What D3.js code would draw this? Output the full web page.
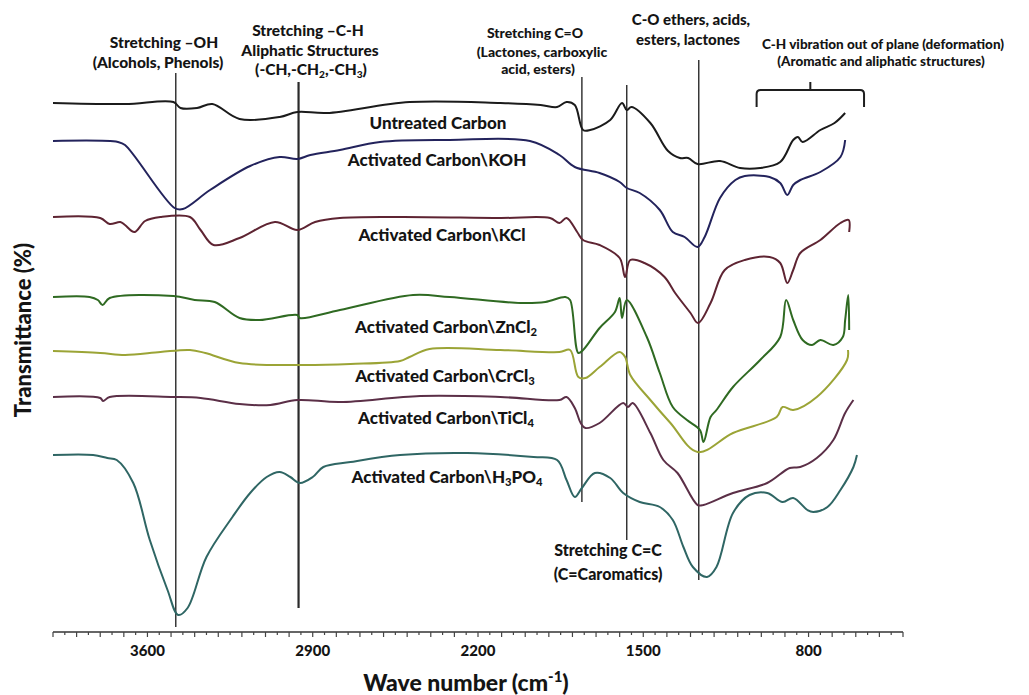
<!DOCTYPE html>
<html>
<head>
<meta charset="utf-8">
<script src="https://cdn.jsdelivr.net/npm/d3@7"></script>
<style>
body { margin: 0; background: #fff; }
text { font-family: Lato, "Open Sans", sans-serif; font-weight: 900; fill: #141414; }
</style>
</head>
<body>
<script>

// FTIR spectra, [wave number (cm-1), transmittance (stacked, a.u.)]
var untreated = [
    [4000, 107.4], [3695, 107.2], [3490, 107.6], [3460, 106.4], [3390, 106.4], [3325, 107.2],
    [3210, 104.2], [3040, 104.6], [2965, 105.6], [2840, 105.4], [2490, 107.6], [2105, 107.4],
    [1935, 107], [1865, 106.6], [1825, 107.6], [1790, 107], [1755, 102], [1725, 102],
    [1640, 104], [1590, 107.4], [1570, 106], [1550, 106.6], [1470, 103.4], [1395, 97.8],
    [1345, 96.4], [1310, 96.4], [1270, 95.2], [1175, 95.8], [1090, 94.4], [1005, 94.4],
    [920, 95.6], [865, 100], [845, 100.6], [825, 99.6], [750, 102], [690, 103.4], [645, 105.4]
];
var koh = [
    [4000, 99.8], [3725, 99.6], [3695, 99], [3485, 86.4], [3450, 86.2], [3335, 90],
    [3165, 94.8], [3040, 96.6], [2965, 96.2], [2910, 97], [2785, 98], [2615, 99.6],
    [2320, 100], [1980, 99.8], [1855, 97], [1790, 94.6], [1685, 93.4], [1600, 91.6],
    [1570, 90.4], [1515, 89.4], [1430, 86], [1375, 81.6], [1325, 80.6], [1270, 78.6],
    [1240, 80.6], [1175, 88.4], [1110, 92], [1070, 92.8], [965, 92.6], [920, 91.4],
    [890, 89], [865, 91], [835, 92], [750, 93.6], [665, 96.6], [645, 100]
];
var kcl = [
    [4000, 84.6], [3800, 84.4], [3760, 83.2], [3715, 83.6], [3695, 83], [3655, 81.6],
    [3610, 83.8], [3545, 84.6], [3420, 84.6], [3375, 82], [3320, 79], [3210, 80.4],
    [3060, 83.6], [2965, 82], [2890, 83.6], [2785, 84.4], [2530, 84.6], [2105, 84.4],
    [1895, 84.4], [1855, 83.4], [1825, 84.4], [1780, 81.6], [1755, 80], [1685, 79],
    [1600, 76.4], [1577, 72.6], [1555, 76], [1495, 75.4], [1410, 72.6], [1365, 69.4],
    [1300, 65.4], [1268, 63.4], [1215, 67.4], [1155, 74], [1070, 76], [965, 76.6],
    [920, 75.4], [890, 71.4], [865, 74], [835, 77.4], [750, 80], [665, 83.4], [630, 84], [628, 81.6]
];
var zncl2 = [
    [4000, 68.6], [3845, 68.6], [3810, 68], [3790, 67], [3760, 68.4], [3490, 68.8],
    [3400, 68], [3315, 67.6], [3210, 64.4], [3125, 64], [2965, 65], [2955, 64.4],
    [2785, 66], [2475, 69], [2320, 68.6], [2020, 67.4], [1915, 67.6], [1830, 68.6],
    [1810, 68], [1775, 57.4], [1755, 58], [1685, 62.4], [1620, 65.6], [1600, 68.4],
    [1590, 64.4], [1570, 68], [1485, 60.6], [1430, 53.4], [1375, 46.6], [1315, 44],
    [1260, 42], [1245, 39.6], [1215, 44.6], [1190, 46], [1120, 50.6], [1005, 56],
    [920, 60.6], [895, 68], [865, 64], [825, 60], [785, 59], [750, 60], [695, 59],
    [655, 60.6], [645, 64], [632, 69], [628, 62]
];
var crcl3 = [
    [4000, 57.8], [3800, 57.4], [3695, 57], [3545, 57.6], [3420, 58], [3355, 57.4],
    [3210, 55.4], [2965, 55], [2740, 55.2], [2530, 55.8], [2490, 56.6], [2405, 58.2],
    [2105, 58], [1855, 57.6], [1810, 58], [1775, 52.6], [1745, 52.4], [1685, 54.6],
    [1600, 57.6], [1577, 56.6], [1555, 53], [1470, 48], [1385, 43.4], [1270, 37.6],
    [1120, 41.4], [935, 44.6], [910, 46.6], [865, 46], [765, 48.6], [637, 56], [633, 58]
];
var ticl4 = [
    [4000, 48.6], [3800, 48.4], [3788, 47.8], [3760, 48.6], [3490, 48.6], [3375, 48.4],
    [3210, 47.2], [3080, 47], [2965, 48], [2785, 47.6], [2445, 48.8], [2105, 48.6],
    [1855, 48], [1825, 48.6], [1790, 46.4], [1765, 43.4], [1745, 42.4], [1685, 43.4],
    [1585, 47.4], [1565, 46.6], [1545, 47.4], [1470, 41.4], [1415, 36], [1355, 33.4],
    [1270, 27], [1245, 27], [1120, 29.4], [975, 31.4], [880, 34.4], [835, 34.6],
    [765, 36.4], [695, 40], [645, 45.4], [610, 48]
];
var h3po4 = [
    [4000, 37], [3830, 37], [3770, 36.4], [3730, 36], [3660, 31.4], [3590, 20],
    [3515, 10], [3470, 5], [3430, 6.4], [3350, 16.6], [3240, 24.6], [3165, 29.4],
    [3095, 32.6], [3040, 33.6], [2995, 32.6], [2955, 31.4], [2900, 32.6], [2855, 34.6],
    [2740, 35.6], [2530, 37], [2245, 37.4], [1965, 36.6], [1865, 36], [1825, 32],
    [1790, 28.6], [1760, 30.4], [1705, 33.4], [1640, 32.4], [1585, 29.4], [1515, 27.6],
    [1430, 26.6], [1375, 24], [1330, 18.6], [1290, 14.6], [1230, 12.6], [1190, 14.6],
    [1120, 25.4], [1050, 29], [975, 29.4], [910, 27.6], [865, 28.4], [805, 26],
    [780, 25.6], [720, 26.6], [665, 30], [610, 34.6], [595, 37]
];

var names = ["Untreated Carbon", "Activated Carbon\\KOH", "Activated Carbon\\KCl",
             "Activated Carbon\\ZnCl_2", "Activated Carbon\\CrCl_3", "Activated Carbon\\TiCl_4",
             "Activated Carbon\\H_3PO_4"];

// assigned bands (cm-1)
var bands = [3480, 2960, 1760, 1570, 1265];
var bracketRange = [1020, 565]; // C-H out of plane region

var tickLabels = [3600, 2900, 2200, 1500, 800];

////////////////////////////////////////////////////////////////////////////////
var W = 1029, H = 695;

var colors = ["#1b1b1b", "#23235c", "#5e2432", "#2f6a22", "#9ba436", "#5b2f47", "#2f6664"];
var labelPos = [[438, 129], [437, 166], [442, 241], [446, 333], [445, 382], [446, 424], [447, 483]];

var x = d3.scaleLinear().domain([4000, 400]).range([53, 903]);
var y = d3.scaleLinear().domain([0, 120]).range([640, 40]);

var svg = d3.select("body").append("svg")
    .attr("width", W)
    .attr("height", H);

// writes "ZnCl_2" style strings as tspans with subscripts
function richText(t, str) {
    var parts = str.split(/_(\d)/);
    var down = false;
    for (var i = 0; i < parts.length; i++) {
        if (parts[i] === "") continue;
        var ts = t.append("tspan").text(parts[i]);
        if (i % 2 == 1) {
            ts.attr("font-size", "0.66em").attr("dy", down ? 0 : 3);
            down = true;
        } else if (down) {
            ts.attr("dy", -3);
            down = false;
        }
    }
}

// band marker lines
var bandY = [[73, 627], [82, 608], [77, 502], [85, 540], [60, 580]];
svg.selectAll(".band").data(bands)
  .enter().append("line")
    .attr("class", "band")
    .attr("x1", function(d) { return x(d); })
    .attr("x2", function(d) { return x(d); })
    .attr("y1", function(d, i) { return bandY[i][0]; })
    .attr("y2", function(d, i) { return bandY[i][1]; })
    .attr("stroke", "#2a2a2a")
    .attr("stroke-width", function(d, i) { return i == 1 ? 2.2 : 1.4; });

// bracket
var bx1 = x(bracketRange[0]), bx2 = x(bracketRange[1]), bm = (bx1 + bx2) / 2;
svg.append("path")
    .attr("d", "M" + bx1 + ",107 L" + bx1 + ",94 Q" + bx1 + ",90 " + (bx1 + 4) + ",90 L" +
               (bx2 - 4) + ",90 Q" + bx2 + ",90 " + bx2 + ",94 L" + bx2 + ",107" +
               " M" + bm + ",90 L" + bm + ",82")
    .attr("fill", "none")
    .attr("stroke", "#1e1e1e")
    .attr("stroke-width", 2);

// spectra
var line = d3.line()
    .x(function(d) { return x(d[0]); })
    .y(function(d) { return y(d[1]); })
    .curve(d3.curveCatmullRom.alpha(0.5));

var spectra = [untreated, koh, kcl, zncl2, crcl3, ticl4, h3po4];

svg.selectAll(".spectrum").data(spectra)
  .enter().append("path")
    .attr("class", "spectrum")
    .attr("d", line)
    .attr("fill", "none")
    .attr("stroke", function(d, i) { return colors[i]; })
    .attr("stroke-width", 2)
    .attr("stroke-linejoin", "round");

// curve labels
names.forEach(function(n, i) {
    var t = svg.append("text")
        .attr("x", labelPos[i][0])
        .attr("y", labelPos[i][1])
        .attr("text-anchor", "middle")
        .attr("font-size", 17);
    richText(t, n);
});

// band annotations
var notes = [
    ["Stretching \u2013OH", 164, 48, 15.5],
    ["(Alcohols, Phenols)", 158, 68, 15.5],
    ["Stretching \u2013C-H", 308, 36, 15.5],
    ["Aliphatic Structures", 310, 56, 15.5],
    ["(-CH,-CH_2,-CH_3)", 311, 75, 15.5],
    ["Stretching C=O", 535, 38, 14],
    ["(Lactones, carboxylic", 542, 57, 14],
    ["acid, esters)", 538, 74, 14],
    ["C-O ethers, acids,", 691, 25, 15],
    ["esters, lactones", 688, 45, 15],
    ["C-H vibration out of plane (deformation)", 883, 49, 13.5],
    ["(Aromatic and aliphatic structures)", 881, 66, 13.5],
    ["Stretching C=C", 608, 556, 16],
    ["(C=Caromatics)", 608, 580, 16]
];
notes.forEach(function(n) {
    var t = svg.append("text")
        .attr("x", n[1])
        .attr("y", n[2])
        .attr("text-anchor", "middle")
        .attr("font-size", n[3]);
    richText(t, n[0]);
});

// x axis
var minor = d3.range(4000, 399, -50);
svg.append("line")
    .attr("x1", x(4000)).attr("x2", x(400))
    .attr("y1", 632).attr("y2", 632)
    .attr("stroke", "#333").attr("stroke-width", 1.6);
svg.selectAll(".tick").data(minor)
  .enter().append("line")
    .attr("class", "tick")
    .attr("x1", function(d) { return x(d); })
    .attr("x2", function(d) { return x(d); })
    .attr("y1", 632)
    .attr("y2", function(d) { return d % 100 == 0 ? 637 : 635; })
    .attr("stroke", "#444").attr("stroke-width", 1.2);
svg.selectAll(".tlabel").data(tickLabels)
  .enter().append("text")
    .attr("class", "tlabel")
    .attr("x", function(d) { return x(d); })
    .attr("y", 656)
    .attr("text-anchor", "middle")
    .attr("font-size", 15)
    .text(function(d) { return d; });

// axis titles
var xt = svg.append("text")
    .attr("x", 466).attr("y", 691)
    .attr("text-anchor", "middle")
    .attr("font-size", 23);
xt.append("tspan").text("Wave number (cm");
xt.append("tspan").attr("font-size", "0.65em").attr("dy", -9).text("-1");
xt.append("tspan").attr("dy", 9).text(")");

svg.append("text")
    .attr("transform", "translate(31,330) rotate(-90)")
    .attr("text-anchor", "middle")
    .attr("font-size", 22)
    .text("Transmittance (%)");

</script>
</body>
</html>
